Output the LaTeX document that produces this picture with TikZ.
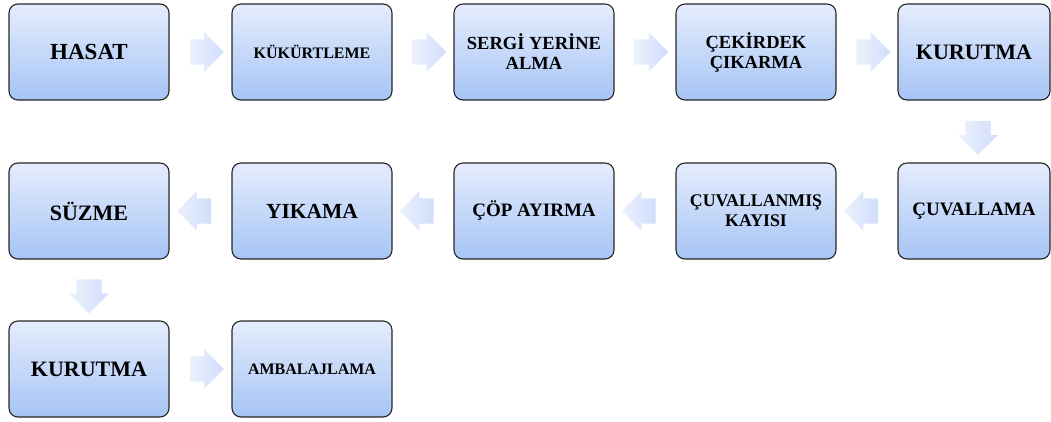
\documentclass[tikz,border=0pt]{standalone}
\usepackage{fontspec}
\setmainfont{Liberation Serif}
\usetikzlibrary{shapes.arrows,calc}
\definecolor{boxtop}{RGB}{229,237,253}
\definecolor{boxbot}{RGB}{166,196,245}
\definecolor{arrpale}{RGB}{236,241,253}
\definecolor{arrblue}{RGB}{208,221,251}
\begin{document}
\begin{tikzpicture}[x=1pt,y=-1pt,
  adim/.style={draw=black!85, line width=1.1pt, rounded corners=9pt,
    top color=boxtop, bottom color=boxbot, minimum width=160pt,
    minimum height=96pt, align=center, inner sep=2pt},
  yazi/.style={font=\fontsize{#1}{20}\selectfont\bfseries},
  okR/.style={single arrow, minimum height=34pt, inner xsep=0pt, inner ysep=12.5pt,
    single arrow head extend=7pt, draw=none, left color=arrpale, right color=arrblue},
  okL/.style={okR, rotate=180},
  okD/.style={okR, rotate=-90}]
\useasboundingbox (0,0) rectangle (1051,421);
% ilk satir
\node[adim, yazi=23] (hasat) at (89,52) {HASAT};
\node[adim, yazi=16] (kukurt) at (312,52) {KÜKÜRTLEME};
\node[adim, yazi=18.5] (sergi) at (534,52) {SERGİ YERİNE\\ALMA};
\node[adim, yazi=18.5] (cekirdek) at (756,52) {ÇEKİRDEK\\ÇIKARMA};
\node[adim, yazi=22, minimum width=152pt] (kurutmaA) at (974,52) {KURUTMA};
% ikinci satir
\node[adim, yazi=19, minimum width=152pt] (cuvallama) at (974,211) {ÇUVALLAMA};
\node[adim, yazi=17.8] (cuvkayisi) at (756,211) {ÇUVALLANMIŞ\\KAYISI};
\node[adim, yazi=19] (copayirma) at (534,211) {ÇÖP AYIRMA};
\node[adim, yazi=21.5] (yikama) at (312,211) {YIKAMA};
\node[adim, yazi=22] (suzme) at (89,211) {SÜZME};
% ucuncu satir
\node[adim, yazi=22] (kurutmaB) at (89,369) {KURUTMA};
\node[adim, yazi=16] (ambalaj) at (312,369) {AMBALAJLAMA};
% oklar
\node[okR] at ($(hasat.east)!0.5!(kukurt.west)$) {};
\node[okR] at ($(kukurt.east)!0.5!(sergi.west)$) {};
\node[okR] at ($(sergi.east)!0.5!(cekirdek.west)$) {};
\node[okR] at ($(cekirdek.east)!0.5!(kurutmaA.west)$) {};
\node[okD] at ($(kurutmaA.south)!0.5!(cuvallama.north)+(4,0)$) {};
\node[okL] at ($(cuvallama.west)!0.5!(cuvkayisi.east)$) {};
\node[okL] at ($(cuvkayisi.west)!0.5!(copayirma.east)$) {};
\node[okL] at ($(copayirma.west)!0.5!(yikama.east)$) {};
\node[okL] at ($(yikama.west)!0.5!(suzme.east)$) {};
\node[okD] at ($(suzme.south)!0.5!(kurutmaB.north)$) {};
\node[okR] at ($(kurutmaB.east)!0.5!(ambalaj.west)$) {};
\end{tikzpicture}
\end{document}
